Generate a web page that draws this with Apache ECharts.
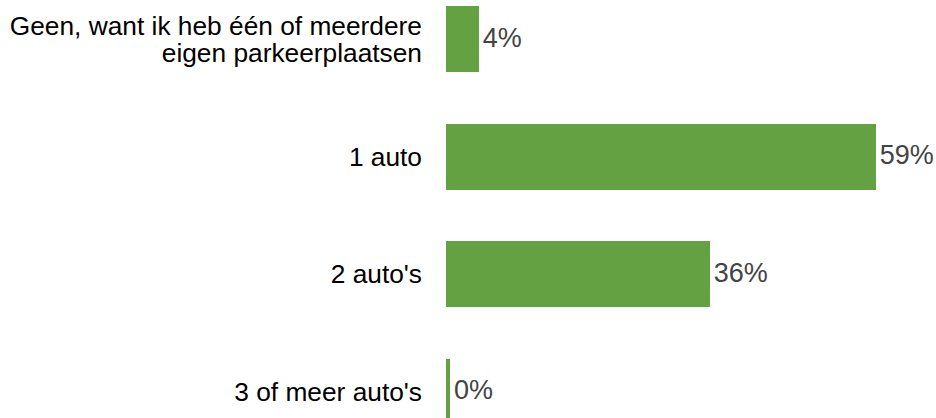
<!DOCTYPE html>
<html><head><meta charset="utf-8">
<script src="https://cdn.jsdelivr.net/npm/echarts@6/dist/echarts.min.js"></script>
<style>html,body{margin:0;padding:0;background:#fff}#c{width:936px;height:418px}#c svg path{shape-rendering:crispEdges}</style>
</head><body><div id="c"></div>
<script>
const categories = ["Geen, want ik heb één of meerdere\neigen parkeerplaatsen", "1 auto", "2 auto's", "3 of meer auto's"];
const values = [4, 59, 36, 0];

const chart = echarts.init(document.getElementById('c'), null, {renderer: 'svg'});
const FONT = '"Liberation Sans", Arial, sans-serif';
const GREEN = '#63a143';
const BASE = 4 / (505 / 70); // 4px minimum visible stub drawn under every bar
chart.setOption({
  animation: false,
  grid: {left: 446, top: -19.8, width: 505, height: 470.4, containLabel: false, outerBoundsMode: 'none'},
  xAxis: {type: 'value', min: 0, max: 70, show: false},
  yAxis: {
    type: 'category', data: categories, inverse: true,
    axisLine: {show: false}, axisTick: {show: false}, splitLine: {show: false},
    axisLabel: {fontSize: 26.3, color: '#000', fontFamily: FONT, margin: 24, lineHeight: 27,
                align: 'right', padding: [0, 0, 6, 0]}
  },
  series: [
    {type: 'bar', stack: 's', barWidth: 66, data: categories.map(() => BASE),
     itemStyle: {color: GREEN}, silent: true},
    {type: 'bar', stack: 's', barWidth: 66, data: values,
     itemStyle: {color: GREEN},
     label: {show: true, position: 'right', distance: 4, offset: [0, -1.5], fontSize: 27, color: '#444', fontFamily: FONT,
             formatter: p => p.value + '%'}}
  ]
});
</script></body></html>
